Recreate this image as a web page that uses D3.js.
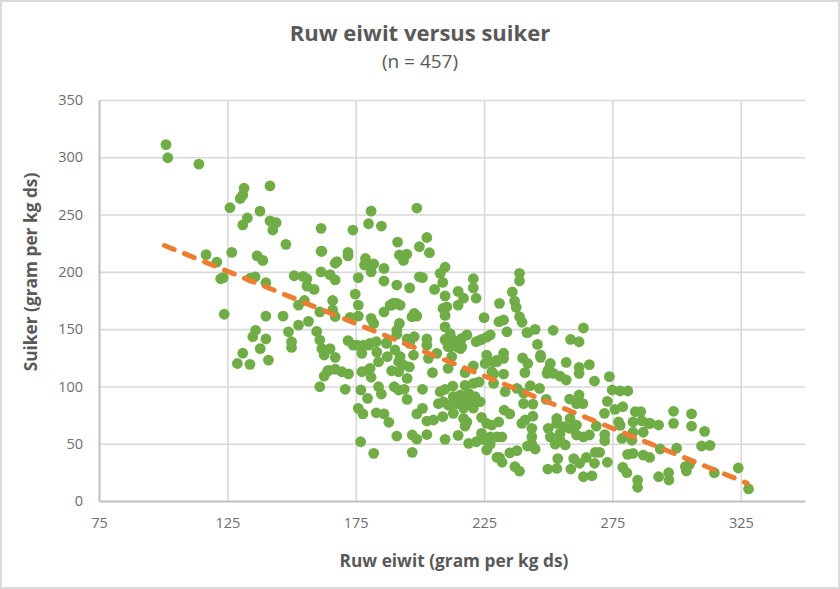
<!DOCTYPE html>
<html>
<head>
<meta charset="utf-8">
<script src="https://cdn.jsdelivr.net/npm/d3@7"></script>
<style>
	html, body { margin: 0; padding: 0; background: #fff; }
	text { font-family: "Open Sans", sans-serif; }
</style>
</head>
<body>
<div id="chart"></div>
<script>
// Values: [ruw eiwit, suiker]
var punten = [
	[101.1,311],[101.8,299.6],[113.9,294],[141.6,275],[131.5,273],[131,267],[130,264],[126,256],[137.7,253],
	[132.8,247],[131,241],[141.6,244.5],[144,243],[142.7,236.5],[161.5,238],[173.9,236.5],[147.8,224],[161.5,218],
	[116.7,215],[126.7,217],[120.9,208.5],[136.6,214],[138.8,210],[172,217],[172,214],[167.7,209],[167,207.5],
	[161.5,200],[165,197.6],[167,193],[151,196.6],[154.5,196],[156,194],[156,187.6],[158.8,184.7],[135.8,195.7],
	[134,194.6],[140,190.5],[123.4,195],[122.4,194],[166,175],[174.8,180.6],[176,195],[155,175],
	[123.8,163],[140,161.4],[146.7,161.4],[152.7,153.5],[156.6,156.8],[152.7,171],[136,149],[134.9,143.4],[140,141.4],
	[148.8,147.7],[150,139],[150,134],[159.8,148],[161,140.5],[161.8,133],[165,133],[137.8,133],[131,129],
	[161,165],[166,166.7],[167,161],[176,171],[176,161.4],[172.8,160.3],[181,159.4],[182,155],[186,165],[189,171],
	[191,172.5],[186,192],[191,188.5],[191.3,226],[192,214.7],[181,253],[180,242],[185,240],[161.8,218],
	[178.8,211.7],[178.4,206],[182,207],[180.6,204.5],[181,200],[186,203],[191,149],[187,138],[172,140],
	[175.4,136],[178,136],[180.6,137.6],[183,139],
	[198.8,255.7],[202.7,230],[199.8,222],[203.7,216.7],[194.9,215.5],[193.6,210],[209.8,204],[207.9,198.7],[208.9,190.8],
	[205.7,184.7],[199.8,195.7],[201,195],[196,186],[214.9,183],[217,177],[214.9,171],[209.8,179],[220.8,194],
	[220.8,186],[221.9,177],[238.8,198.7],[238.8,192],[236,182.4],[231,172.5],[236.9,174.5],[237.5,169],[238.8,160.8],
	[239.8,156],[225,160],[230.8,156.5],[232.6,158],[233.9,147.7],[241.7,147],[227.4,145],[226,143],[223.5,140.5],
	[221.9,139],[218.3,145],[216.3,142],[210.5,169.5],[209.8,162],[209,168],[209.8,152],[211.8,146],[209.8,141],
	[213,140.5],[214.4,134.6],[216.3,134.6],[211,134.6],[197.8,163.8],[198.8,161.4],[196.9,160.8],[192,155],[191,145.5],
	[197.8,143.4],[195,141.4],[202.7,141.4],[202.7,136],[189.7,172.7],[192.3,171],[188.4,171],
	[161,99.7],[170.9,97.5],[162.7,109],[164.4,114],[167,115],[169.6,112.8],[172.2,111],[162.7,127.4],[167,125.4],
	[177,96.9],[179.6,89.6],[183.9,99.7],[185,93.4],[190,99.7],[191.7,96.9],[193.9,97.5],[195,88.7],[201,97.5],
	[176,80.9],[177.8,76],[183,77],[186,76],[187.9,68.7],[176.9,51.7],[182,41.6],[191,56.7],[197,57.6],[198.8,54],
	[202.7,58],[197,42.5],[209.8,53.8],[214.9,57.3],[198.8,76],[201,80.9],[202.7,69.8],[205.3,70.7],[208.9,73.6],
	[207.2,85],[209.2,86.6],[207.9,95.4],[209.8,97.5],[212.8,100.3],[217.6,101],[220.8,102.7],[223,104],[228.7,102.7],
	[213,91],[215.8,92.5],[219,94],[221.5,91],[223.5,86.6],[220.8,81],[217,81],[213,76.5],[214.4,85],[217.6,86.6],
	[219.6,85],[211,83.8],[217,72],[218.3,69],[217.6,65.4],[219,50.3],[222,51.7],[225.4,53.2],[227.4,49.7],[226,44.5],
	[230,38],[224,73],[226,67.8],[228,66.3],[230.7,69],[224,59],[227.4,56],[230,56],
	[177.4,112.8],[180.6,115.8],[181,108],[183.9,121.5],[187.3,126],[189,113.7],[191.7,112.8],[195,107],[191.7,121.5],
	[192.3,126],[193.6,118.7],[195.9,117],[204.9,112],[211,115.8],[217.6,112],[220.8,118],[225.4,120],[226,127.4],
	[228,112.8],[230,121.5],[177.4,128.9],[183.2,130],[174,136],[180,136],[203.3,124.5],[206.6,128.9],[212.4,126],
	[211.8,134.6],[215.8,133],[214.4,139],[210.5,139],[187,137.6],[196,137.6],[197.5,127.4],[190.3,131.8],
	[242,146.9],[244.9,149.8],[251.9,149],[263.7,151],[258.7,141],[262,139],[245.8,136.7],[247,127.4],[247,125.4],
	[250.8,120],[257,121],[266,119],[240,124.8],[242,120],[262,116.7],[262,111.4],[240.9,112],[250,114.3],[249.5,111.4],
	[252,111.4],[254.6,109],[257,105.6],[268,104.7],[273.8,108.5],[232.6,129],[230,123],[232.6,124.5],[228.7,121.5],
	[224,141],[232.6,110.8],[228.7,110.8],
	[233.2,95.4],[237.8,98.3],[240.4,94],[243,100.6],[246.6,98.3],[240.4,85],[244,84.6],[249.2,88.7],[258.3,89],[262,92.5],
	[263.5,85],[261,85],[274.9,96.9],[278,96],[281,96],[273,87],[276,80],[279,82.3],[271.9,76.5],[268.7,65.4],[283.9,78],
	[286,78],[283,69],[286.4,70],[277.4,69],[278,66],[289,67.7],[287,60],[283,60],[282.6,53],[278.7,54.6],[272,58],[272,52.6],
	[280.9,40.7],[283,41.6],[287,40],[289.5,38],[279,29.4],[280.6,24.7],[284.8,18.3],[284.8,12],[273,33.8],[268.3,42.5],
	[270,42.5],[268,32.9],[264.8,38],[262.2,32.9],[259.9,37],[258.8,27.9],[267,22],[263.7,21.2],[253.7,37],[249.8,27.9],
	[253.3,28.4],[237,30],[238.8,26],[231,38],[232,33.8],[235,42],[237.8,44],[243.6,63.4],[243.6,56],[243.6,49.7],
	[241.9,48],[244.9,45.4],[239.7,67.8],[241,70.7],[244,74],[232.8,79.4],[235,76],[231.9,56],[250,63.4],[253.3,72],
	[253.3,67.8],[250.8,56],[252.7,49.7],[254.6,59],[256.6,48.9],[254.6,53],[258.5,72],[261,66.3],[258.5,63.4],[261,57.6],
	[263.7,56],[266,57.6],[256,64.8],
	[298.8,78.3],[305.8,76],[298.8,67.8],[305.8,65.4],[310.9,60.8],[309.7,48],[313,48.6],[300,46.2],[324,28.8],[328,10.5],
	[314.7,24.7],[303.4,30],[305,32],[303.8,26.2],[296.9,24.7],[293,21.2],[297,18.3],[293.6,45.4],[289.7,67.7],[293,66.3],
	[128.9,120],[133.8,119.3],[141,123],[164,113.4],[179.8,114.3]
];
var trendlijn = [[100.5,223],[327.5,15.5]];
var xTicks = [75,125,175,225,275,325];
var yTicks = [0,50,100,150,200,250,300,350];
var titel = "Ruw eiwit versus suiker";
var subtitel = "(n = 457)";
var xTitel = "Ruw eiwit (gram per kg ds)";
var yTitel = "Suiker (gram per kg ds)";

var width = 840, height = 589;
var margin = {left: 99, right: 35, top: 100, bottom: 88};

// Define SVG
var svg = d3.select("#chart")
			.append("svg")
			.attr("width", width)
			.attr("height", height)
			.style("display", "block");

// chart frame
svg.append("rect")
	.attr("x", 1).attr("y", 1)
	.attr("width", width - 2).attr("height", height - 2)
	.attr("fill", "#fff")
	.attr("stroke", "#d9d9d9")
	.attr("stroke-width", 2);

// Create scales
var x = d3.scaleLinear().domain([75, 350]).range([margin.left, width - margin.right]);
var y = d3.scaleLinear().domain([0, 350]).range([height - margin.bottom, margin.top]);

// Gridlines first, they sit under the dots
var xGrid = d3.axisBottom(x).tickValues(xTicks.slice(1)).tickSize(-(y(0) - y(350))).tickFormat("");
var yGrid = d3.axisLeft(y).tickValues(yTicks.slice(1)).tickSize(-(x(350) - x(75))).tickFormat("");
svg.append("g").attr("transform", "translate(0," + y(0) + ")").call(xGrid)
	.call(function(g){ g.select(".domain").remove(); });
svg.append("g").attr("transform", "translate(" + x(75) + ",0)").call(yGrid)
	.call(function(g){ g.select(".domain").remove(); });
svg.selectAll("line").attr("stroke", "#d9d9d9").attr("stroke-width", 1.6);

// Axes
var xAxis = d3.axisBottom(x).tickValues(xTicks).tickSize(0).tickPadding(17);
var yAxis = d3.axisLeft(y).tickValues(yTicks).tickSize(0).tickPadding(16);
var gx = svg.append("g").attr("transform", "translate(0," + y(0) + ")").call(xAxis);
var gy = svg.append("g").attr("transform", "translate(" + x(75) + ",0)").call(yAxis);
[gx, gy].forEach(function(g){
	g.select(".domain").attr("stroke", "#bfbfbf").attr("stroke-width", 2);
	g.selectAll("text").attr("fill", "#6d6d6d").style("font-size", "14.5px").style("font-family", '"Open Sans", sans-serif');
});

// Scatter points
svg.append("g").selectAll("circle")
	.data(punten)
	.enter().append("circle")
	.attr("cx", function(d){ return x(d[0]); })
	.attr("cy", function(d){ return y(d[1]); })
	.attr("r", 5.4)
	.attr("fill", "#70ad47");

// Trend line
var line = d3.line()
			.x(function(d){ return x(d[0]); })
			.y(function(d){ return y(d[1]); });
svg.append("path")
	.datum(trendlijn)
	.attr("d", line)
	.attr("fill", "none")
	.attr("stroke", "#ed7d31")
	.attr("stroke-width", 5)
	.attr("stroke-linecap", "round")
	.attr("stroke-dasharray", "10.5 11.1");

// Titles
svg.append("text").attr("x", 420).attr("y", 41)
	.attr("text-anchor", "middle").attr("fill", "#595959")
	.style("font-size", "22px").style("font-weight", 700).text(titel);
svg.append("text").attr("x", 420).attr("y", 68)
	.attr("text-anchor", "middle").attr("fill", "#595959")
	.style("font-size", "19px").text(subtitel);
svg.append("text").attr("x", 454).attr("y", 567)
	.attr("text-anchor", "middle").attr("fill", "#595959")
	.style("font-size", "17.3px").style("font-weight", 700).text(xTitel);
svg.append("text")
	.attr("transform", "translate(37,272) rotate(-90)")
	.attr("text-anchor", "middle").attr("fill", "#595959")
	.style("font-size", "17.3px").style("font-weight", 700).text(yTitel);
</script>
</body>
</html>
